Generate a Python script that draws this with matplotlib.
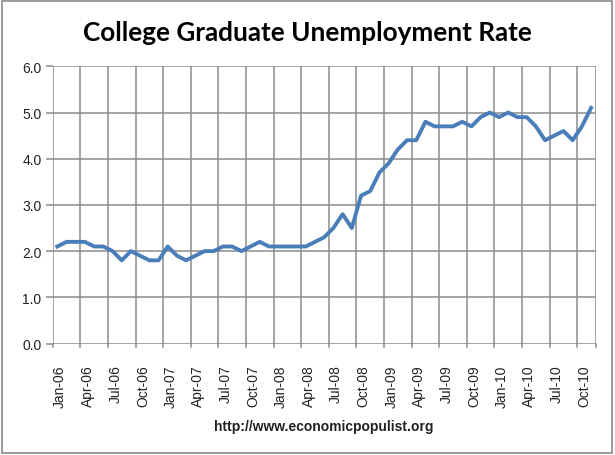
import numpy as np
import matplotlib
matplotlib.use("Agg")
import matplotlib.pyplot as plt
from matplotlib.patches import Rectangle

# monthly rate, Jan-06 .. Nov-10
months = ["Jan", "Feb", "Mar", "Apr", "May", "Jun",
          "Jul", "Aug", "Sep", "Oct", "Nov", "Dec"]
years = ["06", "07", "08", "09", "10"]
rate = [2.1, 2.2, 2.2, 2.2, 2.1, 2.1, 2.0, 1.8, 2.0, 1.9, 1.8, 1.8,
        2.1, 1.9, 1.8, 1.9, 2.0, 2.0, 2.1, 2.1, 2.0, 2.1, 2.2, 2.1,
        2.1, 2.1, 2.1, 2.1, 2.2, 2.3, 2.5, 2.8, 2.5, 3.2, 3.3, 3.7,
        3.9, 4.2, 4.4, 4.4, 4.8, 4.7, 4.7, 4.7, 4.8, 4.7, 4.9, 5.0,
        4.9, 5.0, 4.9, 4.9, 4.7, 4.4, 4.5, 4.6, 4.4, 4.7, 5.1]
y_ticks = [0.0, 1.0, 2.0, 3.0, 4.0, 5.0, 6.0]

labels = [m + "-" + y for y in years for m in months][:len(rate)]
n = len(rate)
x = np.arange(n) + 0.5

grid_col = "#8c8c8c"
line_col = "#4a7ebb"

fig = plt.figure(figsize=(6.15, 4.56), dpi=100)
ax = fig.add_axes([0.0857, 0.2445, 0.8829, 0.6079])

ax.plot(x, rate, color=line_col, linewidth=2.8, solid_joinstyle="round")

ax.set_xlim(0, n)
ax.set_ylim(0, 6)

# gridlines at every 3rd category boundary
bounds = list(range(0, n, 3)) + [n]
for b in bounds:
    ax.axvline(b, color=grid_col, linewidth=1.1, zorder=0)
for yv in y_ticks:
    ax.axhline(yv, color=grid_col, linewidth=1.1, zorder=0)

ax.set_yticks(y_ticks)
ax.set_yticklabels(["%.1f" % v for v in y_ticks], fontsize=10, color="#222222",
                   family="Liberation Sans")
ax.tick_params(axis="y", length=5, color=grid_col, width=1.1, pad=3)

idx = list(range(0, n, 3))
ax.set_xticks([i + 0.8 for i in idx])
ax.set_xticklabels([labels[i] for i in idx], rotation=90, fontsize=10,
                   color="#222222", family="Liberation Sans")
ax.tick_params(axis="x", length=0, pad=15)
# short tick marks under the axis at the gridlines
for b in bounds:
    ax.plot([b, b], [0, -0.07], color=grid_col, linewidth=1.1, clip_on=False)

for s in ax.spines.values():
    s.set_visible(False)

fig.text(0.5, 0.928, "College Graduate Unemployment Rate", ha="center",
         va="center", fontsize=18.8, fontweight="bold", family="Lato")
fig.text(0.527, 0.063, "http://www.economicpopulist.org", ha="center",
         va="center", fontsize=10, fontweight="bold", color="#222222",
         family="Liberation Sans")

fig.patches.append(Rectangle((0.004, 0.004), 0.991, 0.991, transform=fig.transFigure,
                             fill=False, edgecolor="#8a8a8a", linewidth=1.2))

fig.savefig("out.png", dpi=100)
